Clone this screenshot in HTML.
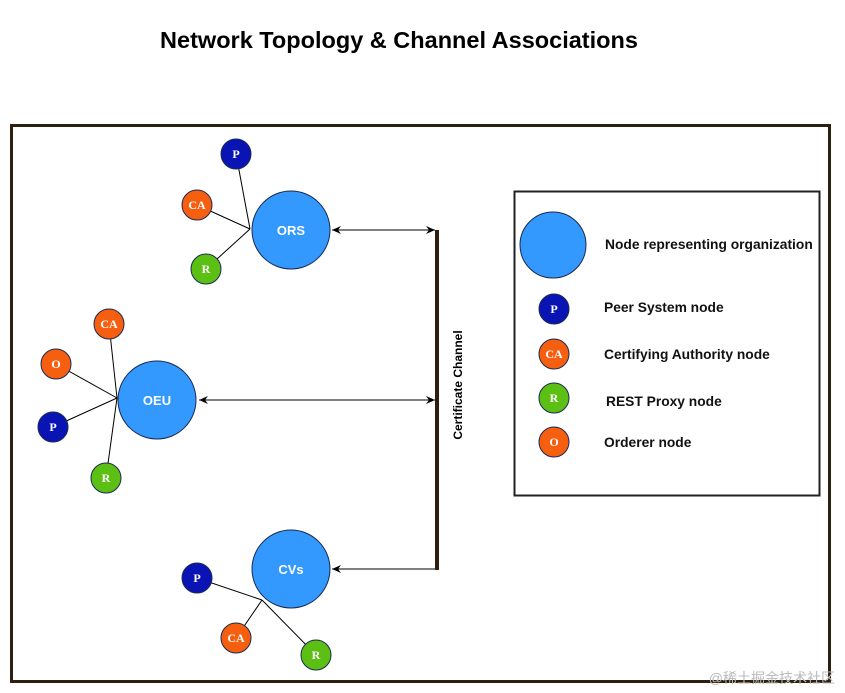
<!DOCTYPE html>
<html><head><meta charset="utf-8"><style>
html,body{margin:0;padding:0;background:#fff;width:845px;height:693px;overflow:hidden}
text{font-family:"Liberation Sans",sans-serif}
.s{font-family:"Liberation Serif",serif;font-weight:bold;fill:#fff;font-size:12px;text-anchor:middle}
.b{font-weight:bold;fill:#fff;font-size:13px;text-anchor:middle}
.l{font-weight:bold;font-size:13.8px;fill:#111}
</style></head><body>
<svg width="845" height="693" xmlns="http://www.w3.org/2000/svg">
<defs><marker id="a" markerWidth="10" markerHeight="10" refX="9" refY="5" orient="auto-start-reverse" markerUnits="userSpaceOnUse"><path d="M0,1 L9,5 L0,9 L3,5z" fill="#000"/></marker></defs>
<text x="399" y="48" font-size="23.5" font-weight="bold" text-anchor="middle" fill="#000">Network Topology &amp; Channel Associations</text>
<rect x="11.5" y="125.5" width="818" height="556" fill="none" stroke="#2e2010" stroke-width="3"/>
<g stroke="#000" stroke-width="1">
<line x1="250" y1="229" x2="236" y2="154"/><line x1="250" y1="229" x2="197" y2="205"/><line x1="250" y1="229" x2="206" y2="269"/>
<line x1="117" y1="398" x2="109" y2="324"/><line x1="117" y1="398" x2="56" y2="364"/><line x1="117" y1="398" x2="53" y2="427"/><line x1="117" y1="398" x2="106" y2="478"/>
<line x1="262" y1="600" x2="197" y2="578"/><line x1="262" y1="600" x2="236" y2="638"/><line x1="262" y1="600" x2="316" y2="655"/>
<line x1="332" y1="230" x2="435" y2="230" marker-start="url(#a)" marker-end="url(#a)"/>
<line x1="199" y1="400" x2="435" y2="400" marker-start="url(#a)" marker-end="url(#a)"/>
<line x1="332" y1="569" x2="436" y2="569" marker-start="url(#a)"/>
</g>
<rect x="435" y="230" width="4" height="340" fill="#2e2010"/>
<text transform="translate(462,385) rotate(-90)" font-size="12" font-weight="bold" text-anchor="middle">Certificate Channel</text>
<g stroke="#1a2a50" stroke-width="1">
<circle cx="291" cy="230" r="39" fill="#3399ff"/><circle cx="157" cy="400" r="39" fill="#3399ff"/><circle cx="291" cy="569" r="39" fill="#3399ff"/>
<circle cx="236" cy="154" r="15" fill="#0a14b4"/><circle cx="197" cy="205" r="15" fill="#f55f0f"/><circle cx="206" cy="269" r="15" fill="#5cbf14"/>
<circle cx="109" cy="324" r="15" fill="#f55f0f"/><circle cx="56" cy="364" r="15" fill="#f55f0f"/><circle cx="53" cy="427" r="15" fill="#0a14b4"/><circle cx="106" cy="478" r="15" fill="#5cbf14"/>
<circle cx="197" cy="578" r="15" fill="#0a14b4"/><circle cx="236" cy="638" r="15" fill="#f55f0f"/><circle cx="316" cy="655" r="15" fill="#5cbf14"/>
</g>
<text class="b" x="291" y="235">ORS</text><text class="b" x="157" y="405">OEU</text><text class="b" x="291" y="574">CVs</text>
<text class="s" x="236" y="158">P</text><text class="s" x="197" y="209">CA</text><text class="s" x="206" y="273">R</text>
<text class="s" x="109" y="328">CA</text><text class="s" x="56" y="368">O</text><text class="s" x="53" y="431">P</text><text class="s" x="106" y="482">R</text>
<text class="s" x="197" y="582">P</text><text class="s" x="236" y="642">CA</text><text class="s" x="316" y="659">R</text>
<rect x="514.5" y="191.5" width="305" height="304" fill="none" stroke="#222" stroke-width="2"/>
<g stroke="#1a2a50" stroke-width="1">
<circle cx="553" cy="245" r="33" fill="#3399ff"/>
<circle cx="554" cy="309" r="15" fill="#0a14b4"/><circle cx="554" cy="354" r="15" fill="#f55f0f"/><circle cx="554" cy="398" r="15" fill="#5cbf14"/><circle cx="554" cy="442" r="15" fill="#f55f0f"/>
</g>
<text class="s" x="554" y="313">P</text><text class="s" x="554" y="358">CA</text><text class="s" x="554" y="402">R</text><text class="s" x="554" y="446">O</text>
<text class="l" x="605" y="249">Node representing organization</text>
<text class="l" x="604" y="312">Peer System node</text>
<text class="l" x="604" y="359">Certifying Authority node</text>
<text class="l" x="606" y="406">REST Proxy node</text>
<text class="l" x="604" y="447">Orderer node</text>
<text x="835" y="683" font-size="14" fill="#bbb" text-anchor="end" style="font-family:'Liberation Sans','Noto Sans CJK SC',sans-serif">@稀土掘金技术社区</text>
</svg>
</body></html>
